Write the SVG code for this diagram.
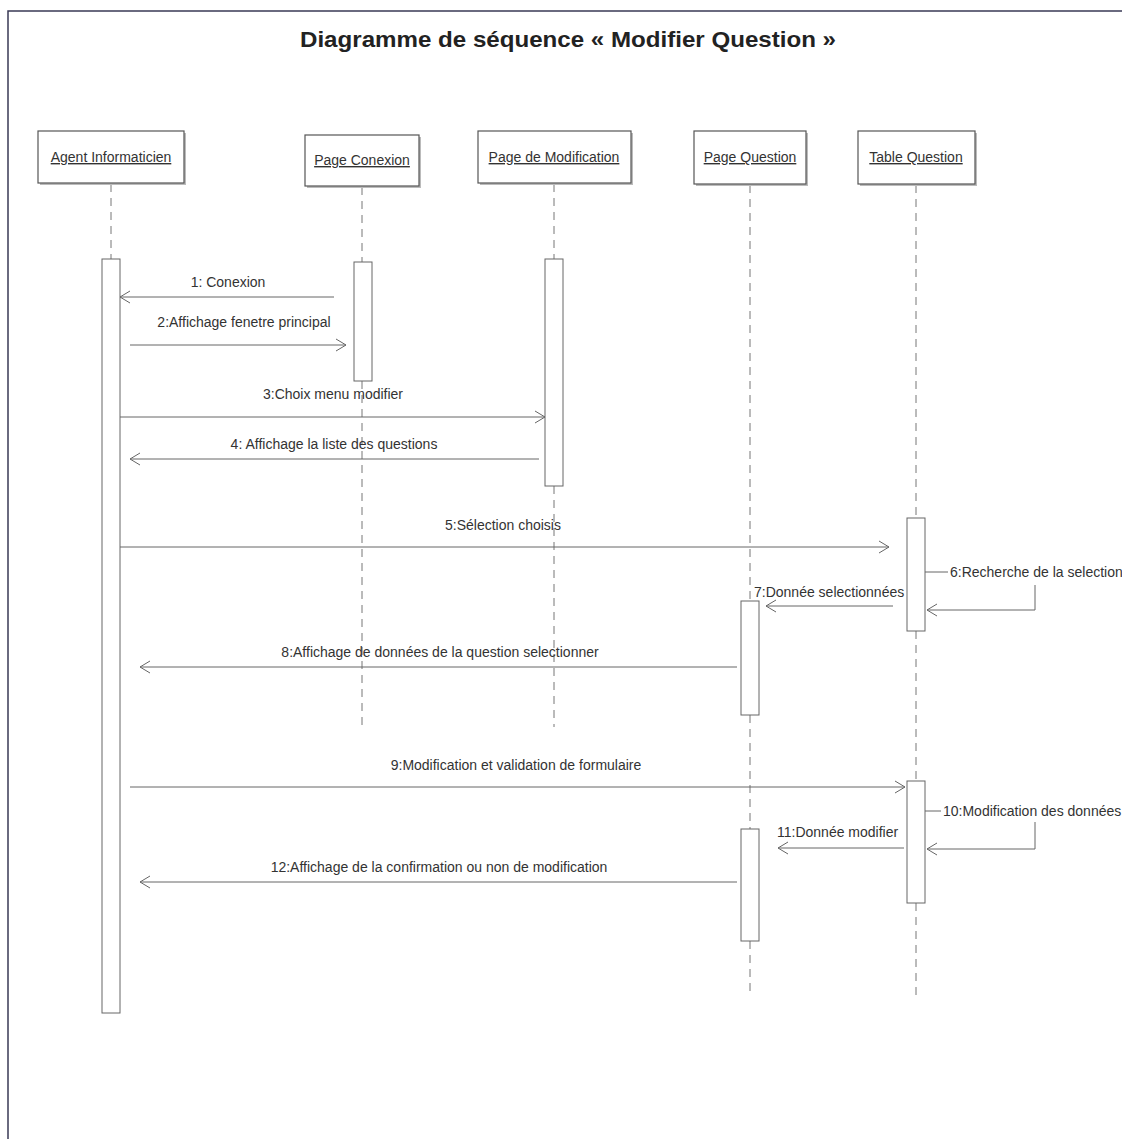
<svg xmlns="http://www.w3.org/2000/svg" width="1122" height="1139" viewBox="0 0 1122 1139">
<style>
.frame{fill:none;stroke:#3a3a55;stroke-width:1.5}
.title{font-family:"Liberation Sans",Arial,sans-serif;font-weight:bold;font-size:22px;fill:#222;text-anchor:middle}
.obj{fill:#fff;stroke:#555;stroke-width:1.2}
.shadow{fill:#bbb}
.oname{font-family:"Liberation Sans",Arial,sans-serif;font-size:14px;fill:#333;text-anchor:middle;text-decoration:underline}
.life{stroke:#777;stroke-width:1;stroke-dasharray:8 6;fill:none}
.act{fill:#fff;stroke:#666;stroke-width:1}
.msg{stroke:#666;stroke-width:1;fill:none}
.lbl{font-family:"Liberation Sans",Arial,sans-serif;font-size:14px;fill:#333;text-anchor:middle}
.lbls{font-family:"Liberation Sans",Arial,sans-serif;font-size:14px;fill:#333}
</style>
<defs>
<marker id="open" markerWidth="12" markerHeight="14" refX="11" refY="7" orient="auto" markerUnits="userSpaceOnUse">
<path d="M1,1 L11,7 L1,13" fill="none" stroke="#666" stroke-width="1"/>
</marker>
</defs>
<rect width="1122" height="1139" fill="#fff"/>
<path class="frame" d="M8,1139 L8,11 L1122,11"/>
<text class="title" x="568" y="47" textLength="536" lengthAdjust="spacingAndGlyphs">Diagramme de séquence « Modifier Question »</text>

<g id="lifelines">
<line class="life" x1="111" y1="184" x2="111" y2="259"/>
<line class="life" x1="362" y1="187" x2="362" y2="262"/>
<line class="life" x1="362" y1="381" x2="362" y2="727"/>
<line class="life" x1="554" y1="184" x2="554" y2="259"/>
<line class="life" x1="554" y1="486" x2="554" y2="727"/>
<line class="life" x1="750" y1="185" x2="750" y2="601"/>
<line class="life" x1="750" y1="715" x2="750" y2="829"/>
<line class="life" x1="750" y1="941" x2="750" y2="995"/>
<line class="life" x1="916" y1="185" x2="916" y2="518"/>
<line class="life" x1="916" y1="631" x2="916" y2="781"/>
<line class="life" x1="916" y1="903" x2="916" y2="995"/>
</g>

<g id="agent">
<rect class="shadow" x="40" y="133" width="146" height="52"/>
<rect class="obj" x="38" y="131" width="146" height="52"/>
<text class="oname" x="111" y="162">Agent Informaticien</text>
<rect class="act" x="102" y="259" width="18" height="754"/>
</g>
<g id="page-conexion">
<rect class="shadow" x="307" y="137" width="114" height="51"/>
<rect class="obj" x="305" y="135" width="114" height="51"/>
<text class="oname" x="362" y="165">Page Conexion</text>
<rect class="act" x="354" y="262" width="18" height="119"/>
</g>
<g id="page-modification">
<rect class="shadow" x="480" y="133" width="153" height="52"/>
<rect class="obj" x="478" y="131" width="153" height="52"/>
<text class="oname" x="554" y="162">Page de Modification</text>
<rect class="act" x="545" y="259" width="18" height="227"/>
</g>
<g id="page-question">
<rect class="shadow" x="696" y="133" width="112" height="53"/>
<rect class="obj" x="694" y="131" width="112" height="53"/>
<text class="oname" x="750" y="162">Page Question</text>
<rect class="act" x="741" y="601" width="18" height="114"/>
<rect class="act" x="741" y="829" width="18" height="112"/>
</g>
<g id="table-question">
<rect class="shadow" x="860" y="133" width="117" height="53"/>
<rect class="obj" x="858" y="131" width="117" height="53"/>
<text class="oname" x="916" y="162">Table Question</text>
<rect class="act" x="907" y="518" width="18" height="113"/>
<rect class="act" x="907" y="781" width="18" height="122"/>
</g>

<g id="connectors">
<line class="msg" x1="334" y1="297" x2="120" y2="297" marker-end="url(#open)"/>
<text class="lbl" x="228" y="287">1: Conexion</text>
<line class="msg" x1="130" y1="345" x2="346" y2="345" marker-end="url(#open)"/>
<text class="lbl" x="244" y="327">2:Affichage fenetre principal</text>
<line class="msg" x1="120" y1="417" x2="545" y2="417" marker-end="url(#open)"/>
<text class="lbl" x="333" y="399">3:Choix menu modifier</text>
<line class="msg" x1="539" y1="459" x2="130" y2="459" marker-end="url(#open)"/>
<text class="lbl" x="334" y="449">4: Affichage la liste des questions</text>
<line class="msg" x1="120" y1="547" x2="889" y2="547" marker-end="url(#open)"/>
<text class="lbl" x="503" y="530">5:Sélection choisis</text>
<line class="msg" x1="925" y1="572" x2="948" y2="572"/>
<text class="lbls" x="950" y="577">6:Recherche de la selection</text>
<path class="msg" d="M1035,585 L1035,610 L927,610" marker-end="url(#open)"/>
<line class="msg" x1="893" y1="606" x2="766" y2="606" marker-end="url(#open)"/>
<text class="lbls" x="754" y="597">7:Donnée selectionnées</text>
<line class="msg" x1="737" y1="667" x2="140" y2="667" marker-end="url(#open)"/>
<text class="lbl" x="440" y="657">8:Affichage de données de la question selectionner</text>
<line class="msg" x1="130" y1="787" x2="905" y2="787" marker-end="url(#open)"/>
<text class="lbl" x="516" y="770">9:Modification et validation de formulaire</text>
<line class="msg" x1="925" y1="811" x2="941" y2="811"/>
<text class="lbls" x="943" y="816">10:Modification des données</text>
<path class="msg" d="M1035,822 L1035,849 L927,849" marker-end="url(#open)"/>
<line class="msg" x1="904" y1="848" x2="778" y2="848" marker-end="url(#open)"/>
<text class="lbls" x="777" y="837">11:Donnée modifier</text>
<line class="msg" x1="737" y1="882" x2="140" y2="882" marker-end="url(#open)"/>
<text class="lbl" x="439" y="872">12:Affichage de la confirmation ou non de modification</text>
</g>
</svg>
